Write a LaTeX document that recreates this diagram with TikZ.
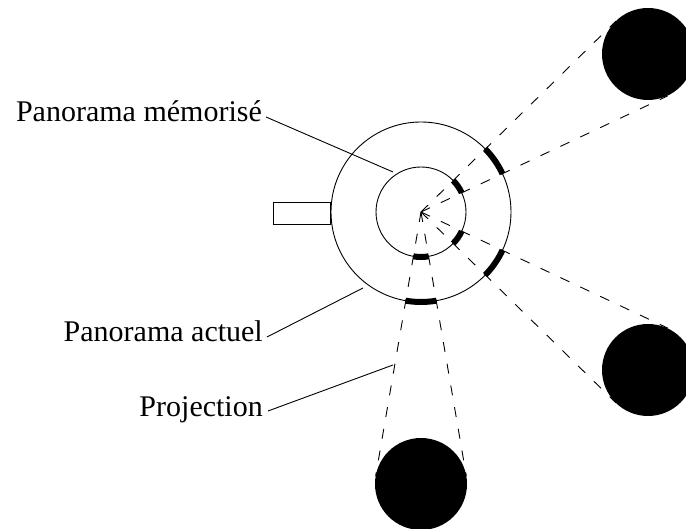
\documentclass[tikz,border=0pt]{standalone}
\usepackage{fontspec}
\setmainfont{Liberation Serif}
\usetikzlibrary{calc}
\begin{document}
\begin{tikzpicture}[x=1pt,y=1pt,
  thin line/.style={line width=0.9pt},
  proj/.style={line width=0.9pt, dash pattern=on 10pt off 12pt},
  marker/.style={line width=6pt},
  obj/.style={circle, fill=black, draw=none, minimum size=92pt, inner sep=0pt},
  lbl/.style={inner sep=0pt, anchor=base east, font=\fontsize{30}{36}\selectfont}]
\useasboundingbox (0,0) rectangle (686,529);
\clip (0,0) rectangle (686,529);
\coordinate (O) at (421,317);
% projection lines
\coordinate (T1) at ($(O)+(44.4:272.7)$);
\coordinate (T2) at ($(O)+(25.2:272.7)$);
\coordinate (T3) at ($(O)+(-25.2:272.7)$);
\coordinate (T4) at ($(O)+(-44.4:272.7)$);
\coordinate (T5) at ($(O)+(260.26:268.1)$);
\coordinate (T6) at ($(O)+(279.74:268.1)$);
\foreach \t in {T1,T2,T3,T4,T5,T6} \draw[proj] (O) -- (\t);
% panoramas
\draw[thin line] (O) circle[radius=90];
\draw[thin line] (O) circle[radius=45];
\node[draw, thin line, minimum width=57pt, minimum height=22pt, inner sep=0pt, anchor=east] (cam) at (331,316) {};
% marked arcs
\foreach \a/\b in {25.2/44.4, -44.4/-25.2, 260.26/279.74} {
  \draw[marker] ($(O)+(\a:90)$) arc[start angle=\a, end angle=\b, radius=90];
  \draw[marker] ($(O)+(\a:45)$) arc[start angle=\a, end angle=\b, radius=45];
}
% objects
\node[obj] (A) at (648,475) {};
\node[obj] (B) at (648,159) {};
\node[obj] (C) at (421,45) {};
% labels
\node[lbl] (mem) at (262,407) {Panorama mémorisé};
\node[lbl] (act) at (263,187) {Panorama actuel};
\node[lbl] (pro) at (263,112) {Projection};
\coordinate (m1) at (393,357);
\coordinate (a1) at (363,241);
\coordinate (p1) at (393,164);
\draw[thin line] ($(mem.base east)+(4,5)$) -- (m1);
\draw[thin line] ($(act.base east)+(4,5)$) -- (a1);
\draw[thin line] ($(pro.base east)+(5,6)$) -- (p1);
\end{tikzpicture}
\end{document}
